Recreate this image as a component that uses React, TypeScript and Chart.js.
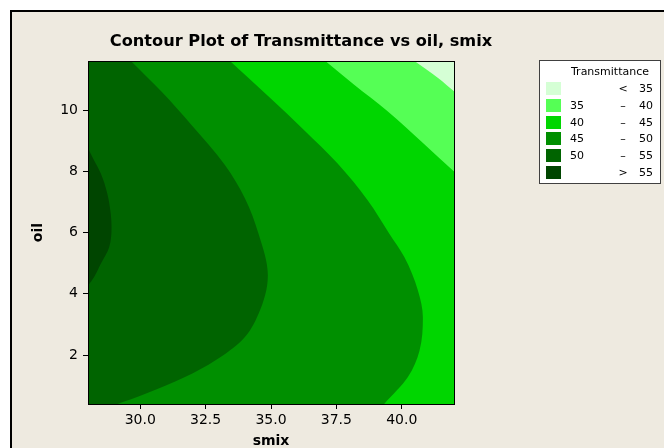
import React, { useEffect, useRef } from 'react';
import { Chart, registerables } from 'chart.js';

Chart.register(...registerables);

// ---- data ----
const TITLE = 'Contour Plot of Transmittance vs oil, smix';
const X_LABEL = 'smix';
const Y_LABEL = 'oil';
const LEGEND_TITLE = 'Transmittance';

const SMIX_RANGE = [28, 42];
const OIL_RANGE = [0.4, 11.6];
const SMIX_TICKS = [30, 32.5, 35, 37.5, 40];
const OIL_TICKS = [2, 4, 6, 8, 10];

const LEVELS = [35, 40, 45, 50, 55];
// band colours: < 35, 35-40, 40-45, 45-50, 50-55, > 55
const BAND_COLORS = ['#D5FFD5', '#55FF55', '#00D600', '#008F00', '#006400', '#004500'];

// contour lines, as smix at increasing oil
// 35 and 40: the region right of the line lies below the level
const C35_SMIX = [42.0, 41.39, 40.49];
const C35_OIL = [10.61, 11.05, 11.6];

const C40_SMIX = [42.0, 40.74, 39.46, 38.17, 37.08];
const C40_OIL = [7.99, 8.98, 9.96, 10.83, 11.6];

// 45, 50 and 55: the region left of the line lies above the level
const C45_SMIX = [39.33, 40.23, 40.68, 40.81, 40.62, 40.1, 39.52, 38.69, 37.54, 36.25, 34.97, 33.43];
const C45_OIL = [0.4, 1.27, 2.14, 3.23, 4.11, 5.2, 5.97, 7.06, 8.26, 9.36, 10.39, 11.6];

const C50_SMIX = [29.13, 30.15, 31.69, 32.85, 33.88, 34.52, 34.88, 34.52, 34.0, 33.23, 31.95, 30.8, 29.64];
const C50_OIL = [0.4, 0.72, 1.27, 1.81, 2.47, 3.34, 4.6, 5.97, 7.12, 8.21, 9.52, 10.61, 11.6];

const C55_SMIX = [28.0, 28.23, 28.49, 28.81, 28.9, 28.87, 28.74, 28.49, 28.23, 28.0];
const C55_OIL = [4.27, 4.54, 4.98, 5.52, 6.18, 6.62, 7.27, 7.93, 8.36, 8.75];

type P = { x: number; y: number };

function pts(xs: number[], ys: number[]): P[] {
  return xs.map((x, i) => ({ x, y: ys[i] }));
}

const [X0, X1] = SMIX_RANGE;
const [Y0, Y1] = OIL_RANGE;

const FONT = 'DejaVu Sans';

const frame = {
  id: 'frame',
  afterDatasetsDraw(chart: any) {
    const { ctx, chartArea: a } = chart;
    ctx.save();
    ctx.strokeStyle = '#000';
    ctx.lineWidth = 1;
    ctx.strokeRect(Math.round(a.left) + 0.5, Math.round(a.top) + 0.5, Math.round(a.right - a.left), Math.round(a.bottom - a.top));
    ctx.restore();
  },
};

function legendRows() {
  const rows: { color: string; lo: string; op: string; hi: string }[] = [];
  rows.push({ color: BAND_COLORS[0], lo: '', op: '<', hi: String(LEVELS[0]) });
  for (let i = 0; i < LEVELS.length - 1; i++) {
    rows.push({ color: BAND_COLORS[i + 1], lo: String(LEVELS[i]), op: '–', hi: String(LEVELS[i + 1]) });
  }
  rows.push({ color: BAND_COLORS[LEVELS.length], lo: '', op: '>', hi: String(LEVELS[LEVELS.length - 1]) });
  return rows;
}

export default function App() {
  const ref = useRef<HTMLCanvasElement | null>(null);

  useEffect(() => {
    if (!ref.current) return;
    // top layer first: Chart.js paints the last dataset first
    const layers = [
      { data: pts(C55_SMIX, C55_OIL), to: X0, color: BAND_COLORS[5] },
      { data: pts(C50_SMIX, C50_OIL), to: X0, color: BAND_COLORS[4] },
      { data: pts(C45_SMIX, C45_OIL), to: X0, color: BAND_COLORS[3] },
      { data: pts(C35_SMIX, C35_OIL), to: X1, color: BAND_COLORS[0] },
      { data: pts(C40_SMIX, C40_OIL), to: X1, color: BAND_COLORS[1] },
      { data: [{ x: X1, y: Y0 }, { x: X1, y: Y1 }], to: X0, color: BAND_COLORS[2] },
    ];
    const chart = new Chart(ref.current, {
      type: 'scatter',
      data: {
        datasets: layers.map((l) => ({
          data: l.data,
          indexAxis: 'y',
          showLine: true,
          fill: { value: l.to },
          backgroundColor: l.color,
          borderColor: 'rgba(0,0,0,0)',
          borderWidth: 0,
          pointRadius: 0,
          pointHoverRadius: 0,
          cubicInterpolationMode: 'monotone',
        })),
      },
      options: {
        indexAxis: 'y',
        responsive: false,
        animation: false,
        events: [],
        layout: { padding: 0 },
        plugins: {
          legend: { display: false },
          tooltip: { enabled: false },
          title: {
            display: true,
            text: TITLE,
            color: '#000',
            font: { family: FONT, size: 16.2, weight: 'bold', lineHeight: 1.2 },
            padding: { top: 20, bottom: 9.6 },
          },
        },
        scales: {
          x: {
            type: 'linear',
            position: 'bottom',
            min: X0,
            max: X1,
            afterBuildTicks: (s: any) => {
              s.ticks = SMIX_TICKS.map((v) => ({ value: v }));
            },
            afterFit: (s: any) => {
              s.height = 44;
            },
            ticks: {
              autoSkip: false,
              maxRotation: 0,
              padding: 3,
              color: '#000',
              font: { family: FONT, size: 14 },
              callback: (v: any) => Number(v).toFixed(1),
            },
            grid: { display: true, drawOnChartArea: false, drawTicks: true, tickLength: 5, color: '#000' },
            border: { display: false },
            title: {
              display: true,
              text: X_LABEL,
              color: '#000',
              font: { family: FONT, size: 14, weight: 'bold', lineHeight: 1 },
              padding: { top: 0, bottom: 0 },
            },
          },
          y: {
            type: 'linear',
            position: 'left',
            min: Y0,
            max: Y1,
            afterBuildTicks: (s: any) => {
              s.ticks = OIL_TICKS.map((v) => ({ value: v }));
            },
            afterFit: (s: any) => {
              s.width = 76;
            },
            ticks: {
              autoSkip: false,
              padding: 5,
              color: '#000',
              font: { family: FONT, size: 14 },
              callback: (v: any) => String(v),
            },
            grid: { display: true, drawOnChartArea: false, drawTicks: true, tickLength: 5, color: '#000' },
            border: { display: false },
            title: {
              display: true,
              text: Y_LABEL,
              color: '#000',
              font: { family: FONT, size: 14, weight: 'bold', lineHeight: 1 },
              padding: { top: 19, bottom: 0 },
            },
          },
          // empty right-hand axis that only reserves the space where the legend sits
          yRight: {
            type: 'linear',
            position: 'right',
            display: true,
            min: Y0,
            max: Y1,
            afterFit: (s: any) => {
              s.width = 136;
            },
            ticks: { display: false },
            grid: { display: false },
            border: { display: false },
          },
        },
      },
      plugins: [frame],
    } as any);
    return () => chart.destroy();
  }, []);

  const rows = legendRows();

  return (
    <div style={{ position: 'fixed', left: 0, top: 0, width: 664, height: 448, background: '#fff', overflow: 'hidden' }}>
      <div
        style={{
          position: 'absolute',
          left: 10,
          top: 10,
          right: 0,
          bottom: 0,
          background: '#EEEAE0',
          borderLeft: '2px solid #000',
          borderTop: '2px solid #000',
        }}
      />
      <canvas ref={ref} width={578} height={436} style={{ position: 'absolute', left: 12, top: 12 }} />
      <div
        style={{
          position: 'absolute',
          left: 539,
          top: 60,
          width: 120,
          height: 122,
          background: '#fff',
          border: '1px solid #404040',
          fontFamily: FONT,
          fontSize: 11,
          color: '#000',
          lineHeight: '13px',
        }}
      >
        <div style={{ position: 'absolute', left: 0, width: 140, top: 3.5, textAlign: 'center' }}>{LEGEND_TITLE}</div>
        {rows.map((r, i) => {
          const cy = 27.7 + 16.75 * i;
          return (
            <React.Fragment key={i}>
              <div style={{ position: 'absolute', left: 6, top: cy - 6.5, width: 15, height: 13, background: r.color }} />
              <div style={{ position: 'absolute', left: 30, top: cy - 6.5 }}>{r.lo}</div>
              <div style={{ position: 'absolute', left: 77, width: 12, top: cy - 6.5, textAlign: 'center' }}>{r.op}</div>
              <div style={{ position: 'absolute', right: 7, top: cy - 6.5, textAlign: 'right' }}>{r.hi}</div>
            </React.Fragment>
          );
        })}
      </div>
    </div>
  );
}
